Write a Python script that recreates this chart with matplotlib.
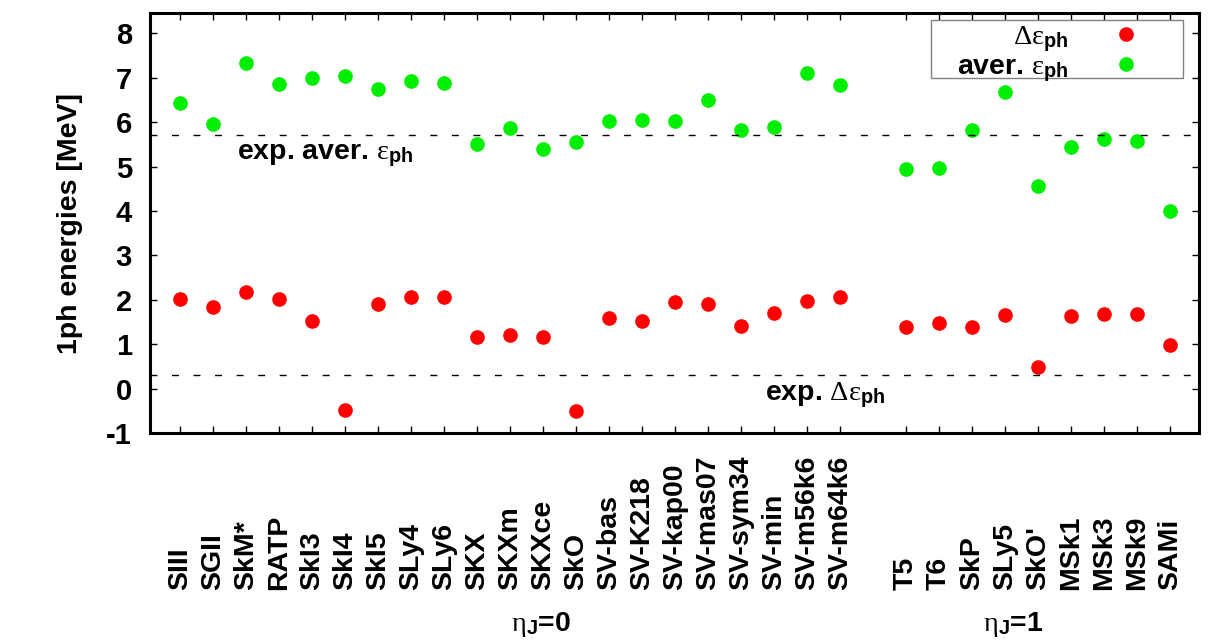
import numpy as np
import matplotlib
matplotlib.use('Agg')
import matplotlib.pyplot as plt
import matplotlib.transforms as mtransforms
from matplotlib.patches import Rectangle

plt.rcParams['font.family'] = ['Liberation Sans', 'DejaVu Sans']
plt.rcParams['font.weight'] = 'bold'
plt.rcParams['axes.unicode_minus'] = False
plt.rcParams['mathtext.fontset'] = 'custom'
plt.rcParams['mathtext.rm'] = 'Liberation Serif:weight=normal'
plt.rcParams['mathtext.it'] = 'Liberation Serif:italic:weight=normal'
plt.rcParams['mathtext.bf'] = 'Liberation Sans:bold'

# Skyrme parametrisations, eta_J = 0 group and eta_J = 1 group
models_eta0 = ['SIII', 'SGII', 'SkM*', 'RATP', 'SkI3', 'SkI4', 'SkI5', 'SLy4', 'SLy6',
               'SKX', 'SKXm', 'SKXce', 'SkO', 'SV-bas', 'SV-K218', 'SV-kap00',
               'SV-mas07', 'SV-sym34', 'SV-min', 'SV-m56k6', 'SV-m64k6']
models_eta1 = ['T5', 'T6', 'SkP', 'SLy5', "SkO'", 'MSk1', 'MSk3', 'MSk9', 'SAMi']

# Delta eps_ph [MeV]
delta_eta0 = [2.02, 1.83, 2.17, 2.02, 1.53, -0.49, 1.91, 2.07, 2.07,
              1.17, 1.21, 1.16, -0.50, 1.59, 1.52, 1.94,
              1.91, 1.42, 1.70, 1.97, 2.07]
delta_eta1 = [1.39, 1.47, 1.38, 1.65, 0.48, 1.63, 1.68, 1.68, 0.98]

# average eps_ph [MeV]
aver_eta0 = [6.43, 5.96, 7.34, 6.87, 7.00, 7.03, 6.74, 6.93, 6.89,
             5.52, 5.86, 5.39, 5.55, 6.02, 6.05, 6.02,
             6.49, 5.82, 5.90, 7.11, 6.84]
aver_eta1 = [4.94, 4.96, 5.82, 6.67, 4.56, 5.44, 5.62, 5.58, 4.01]

exp_aver = 5.72
exp_delta = 0.30

labels = models_eta0 + models_eta1
x0 = np.arange(1, len(models_eta0) + 1)
x1 = np.arange(len(models_eta0) + 2, len(models_eta0) + 2 + len(models_eta1))
xpos = np.concatenate([x0, x1])
delta = delta_eta0 + delta_eta1
aver = aver_eta0 + aver_eta1

fs = 20.5
fig = plt.figure(figsize=(12.21, 6.44), dpi=100)
ax = fig.add_axes([0.1229, 0.3276, 0.8591, 0.6522])

ax.plot(xpos, delta, 'o', color='#ff0000', markersize=9.5, label=r'$\mathrm{\Delta\varepsilon}_{\mathbf{ph}}$')
ax.plot(xpos, aver, 'o', color='#00ee00', markersize=9.5, label=r'aver. $\mathrm{\varepsilon}_{\mathbf{ph}}$')

ax.axhline(exp_aver, color='black', lw=1, dashes=(5, 10.5))
ax.axhline(exp_delta, color='black', lw=1, dashes=(5, 10.5))

ax.text(2.73, 5.18, r'exp. aver. $\mathrm{\varepsilon}_{\mathbf{ph}}$', fontsize=fs, fontweight='bold')
ax.text(18.73, -0.26, r'exp. $\mathrm{\Delta\varepsilon}_{\mathbf{ph}}$', fontsize=fs, fontweight='bold')

ax.set_xlim(0.09, 31.88)
ax.set_ylim(-1, 8.46)
ax.set_yticks(range(-1, 9))
ax.set_xticks(xpos)
ax.set_xticklabels(labels, rotation=90, va='bottom', ha='center', fontsize=fs)
ax.tick_params(axis='x', direction='in', top=True, length=5, width=1, pad=113)
ax.tick_params(axis='y', direction='in', right=True, length=5, width=1, pad=13, labelsize=fs + 0.5)
for s in ax.spines.values():
    s.set_linewidth(2.2)

ax.set_ylabel('1ph energies [MeV]', fontsize=fs, fontweight='bold', labelpad=17)

trans = mtransforms.blended_transform_factory(ax.transData, ax.transAxes)
ax.text(11.94, -0.457, r'$\mathrm{\eta}_{\mathbf{J}}$=0', transform=trans, ha='center', va='center', fontsize=fs)
ax.text(26.24, -0.457, r'$\mathrm{\eta}_{\mathbf{J}}$=1', transform=trans, ha='center', va='center', fontsize=fs)

# key: gnuplot style box, text right-aligned against the points
ax.add_patch(Rectangle((0.7445, 0.8452), 0.2403, 0.1381, transform=ax.transAxes,
                       fill=False, edgecolor='#808080', lw=1, zorder=5))
leg = ax.legend(loc='upper right', bbox_to_anchor=(0.9576, 0.9733), borderaxespad=0,
                markerfirst=False, frameon=False, fontsize=fs, handlelength=2,
                handletextpad=1.03, borderpad=0, labelspacing=0.0)

plt.savefig('out.png', dpi=100)
